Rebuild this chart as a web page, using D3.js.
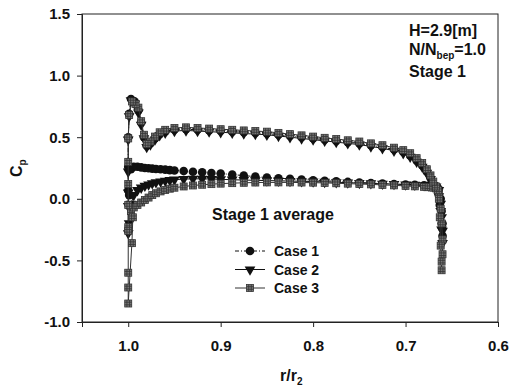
<!DOCTYPE html>
<html>
<head>
<meta charset="utf-8">
<script src="https://cdn.jsdelivr.net/npm/d3@7"></script>
<style>
  html, body { margin: 0; padding: 0; background: #fff; }
  svg { display: block; font-family: "Liberation Sans", Arial, sans-serif; font-weight: bold; }
</style>
</head>
<body>
<div id="chart"></div>
<script>
// --- data ---
const xTicks = [1.0, 0.9, 0.8, 0.7, 0.6];
const yTicks = [-1.0, -0.5, 0.0, 0.5, 1.0, 1.5];

// upper branch, trailing edge -> leading edge
const upperR = [0.665, 0.667, 0.670, 0.673, 0.677, 0.682, 0.688, 0.695, 0.7025, 0.7125,
  0.725, 0.7375, 0.750, 0.7625, 0.775, 0.7875, 0.800, 0.8125, 0.825, 0.8375,
  0.850, 0.8625, 0.875, 0.8875, 0.900, 0.9125, 0.925, 0.9375, 0.950, 0.960,
  0.966, 0.971, 0.976, 0.980, 0.983];
// lower branch, leading edge -> trailing edge
const lowerR = [0.997, 0.994, 0.990, 0.986, 0.982, 0.978, 0.974, 0.970, 0.965, 0.960,
  0.955, 0.950, 0.940, 0.930, 0.920, 0.910, 0.900, 0.8875, 0.875, 0.8625,
  0.850, 0.8375, 0.825, 0.8125, 0.800, 0.7875, 0.775, 0.7625, 0.750, 0.7375,
  0.725, 0.7125, 0.700, 0.690, 0.680, 0.675, 0.670, 0.667];

const case1Upper = [0.06, 0.09, 0.12, 0.17, 0.22, 0.27, 0.31, 0.35, 0.38, 0.40,
  0.42, 0.435, 0.45, 0.46, 0.47, 0.48, 0.49, 0.50, 0.51, 0.52,
  0.53, 0.535, 0.54, 0.545, 0.55, 0.555, 0.56, 0.565, 0.56, 0.545,
  0.525, 0.49, 0.45, 0.43, 0.50];
const case2Upper = [0.05, 0.08, 0.11, 0.16, 0.21, 0.26, 0.30, 0.34, 0.37, 0.39,
  0.41, 0.425, 0.44, 0.45, 0.46, 0.47, 0.48, 0.49, 0.50, 0.51,
  0.52, 0.525, 0.53, 0.535, 0.54, 0.545, 0.55, 0.555, 0.55, 0.535,
  0.515, 0.48, 0.44, 0.42, 0.49];
const case3Upper = [0.07, 0.10, 0.14, 0.19, 0.24, 0.29, 0.33, 0.37, 0.395, 0.415,
  0.435, 0.45, 0.465, 0.475, 0.485, 0.495, 0.505, 0.515, 0.525, 0.535,
  0.545, 0.55, 0.555, 0.56, 0.565, 0.57, 0.575, 0.58, 0.575, 0.56,
  0.54, 0.505, 0.465, 0.445, 0.52];

const case1Lower = [0.24, 0.26, 0.26, 0.255, 0.25, 0.248, 0.245, 0.242, 0.24, 0.237,
  0.233, 0.23, 0.225, 0.22, 0.215, 0.21, 0.205, 0.197, 0.188, 0.18,
  0.173, 0.167, 0.162, 0.157, 0.15, 0.146, 0.142, 0.137, 0.132, 0.128,
  0.124, 0.12, 0.116, 0.113, 0.11, 0.108, 0.105, 0.10];
const case2Lower = [-0.04, 0.03, 0.07, 0.09, 0.105, 0.115, 0.125, 0.133, 0.14, 0.146,
  0.151, 0.155, 0.16, 0.162, 0.162, 0.16, 0.158, 0.155, 0.152, 0.15,
  0.148, 0.146, 0.144, 0.142, 0.14, 0.137, 0.134, 0.131, 0.128, 0.125,
  0.122, 0.119, 0.116, 0.113, 0.11, 0.107, 0.103, 0.098];
const case3Lower = [-0.10, -0.07, -0.05, -0.03, -0.01, 0.01, 0.03, 0.045, 0.06, 0.072,
  0.082, 0.09, 0.10, 0.108, 0.114, 0.119, 0.123, 0.127, 0.13, 0.132,
  0.133, 0.133, 0.133, 0.132, 0.131, 0.129, 0.126, 0.123, 0.12, 0.117,
  0.113, 0.109, 0.105, 0.101, 0.097, 0.094, 0.09, 0.085];

// leading-edge spike [r, Cp]
const case1LE = [[0.986, 0.62], [0.989, 0.72], [0.993, 0.79], [0.997, 0.81], [0.999, 0.69],
  [1.0, 0.50], [1.0, 0.26], [1.0, 0.07], [0.999, 0.03]];
const case2LE = [[0.986, 0.60], [0.989, 0.70], [0.993, 0.77], [0.997, 0.80], [0.999, 0.67],
  [1.0, 0.48], [1.0, 0.22], [1.0, 0.05], [1.0, -0.06], [1.0, -0.28], [0.999, -0.20]];
const case3LE = [[0.986, 0.63], [0.989, 0.74], [0.992, 0.77], [0.996, 0.79], [0.999, 0.68],
  [1.0, 0.49], [1.0, 0.30], [1.0, 0.12], [1.0, -0.05], [1.0, -0.23], [1.0, -0.26],
  [1.0, -0.60], [1.0, -0.72], [1.0, -0.85], [0.996, -0.36], [0.995, -0.15]];

// trailing-edge drop [r, Cp]
const case1TE = [[0.664, 0.08], [0.662, 0.0], [0.661, -0.10], [0.660, -0.20], [0.660, -0.30],
  [0.661, -0.20], [0.663, -0.05], [0.664, 0.03]];
const case2TE = [[0.664, 0.07], [0.662, -0.04], [0.661, -0.15], [0.660, -0.26], [0.660, -0.36],
  [0.661, -0.25], [0.662, -0.10], [0.664, 0.02]];
const case3TE = [[0.664, 0.05], [0.662, -0.08], [0.661, -0.20], [0.660, -0.33], [0.660, -0.45],
  [0.661, -0.51], [0.661, -0.58], [0.662, -0.38], [0.663, -0.15], [0.664, 0.0]];

const caseNames = ["Case 1", "Case 2", "Case 3"];

// --- build one loop per case: lower -> TE -> upper -> LE ---
function loop(lower, te, upper, le) {
  return [
    ...lowerR.map((r, i) => [r, lower[i]]),
    ...te,
    ...upperR.map((r, i) => [r, upper[i]]),
    ...le
  ];
}
const series = [
  { name: caseNames[0], pts: loop(case1Lower, case1TE, case1Upper, case1LE), marker: "circle", dash: "4,2,1,2", stroke: "#111" },
  { name: caseNames[1], pts: loop(case2Lower, case2TE, case2Upper, case2LE), marker: "triangle", dash: null, stroke: "#111" },
  { name: caseNames[2], pts: loop(case3Lower, case3TE, case3Upper, case3LE), marker: "hatch", dash: null, stroke: "#333" }
];

// --- layout ---
const width = 519, height = 387;
const svg = d3.select("#chart").append("svg")
  .attr("width", width).attr("height", height);

const x = d3.scaleLinear().domain([1.05, 0.6]).range([82, 498]);
const y = d3.scaleLinear().domain([-1.0, 1.5]).range([322, 14]);

// frame
svg.append("rect")
  .attr("x", 82).attr("y", 14).attr("width", 416).attr("height", 308)
  .attr("fill", "none").attr("stroke", "#222").attr("stroke-width", 1);

const fmt = (d) => d.toFixed(1);

const xAxis = svg.append("g")
  .attr("transform", "translate(0,322)")
  .call(d3.axisBottom(x).tickValues(xTicks).tickFormat(fmt).tickSize(5).tickPadding(13));
const yAxis = svg.append("g")
  .attr("transform", "translate(82,0)")
  .call(d3.axisLeft(y).tickValues(yTicks).tickFormat(fmt).tickSize(5).tickPadding(7));

[xAxis, yAxis].forEach((a) => {
  a.select(".domain").attr("stroke", "#222");
  a.selectAll(".tick line").attr("stroke", "#222");
  a.selectAll("text").attr("font-size", 15).attr("font-weight", "bold")
    .attr("font-family", "Liberation Sans, Arial, sans-serif").attr("fill", "#111");
});

// markers
function drawMarker(sel, type) {
  if (type === "circle") {
    sel.append("circle").attr("r", 4.3).attr("fill", "#111");
  } else if (type === "triangle") {
    sel.append("path")
      .attr("d", d3.symbol(d3.symbolTriangle, 50)())
      .attr("transform", "rotate(180)")
      .attr("fill", "#111");
  } else {
    sel.append("rect").attr("x", -3.5).attr("y", -3.5).attr("width", 7).attr("height", 7)
      .attr("fill", "#777").attr("stroke", "#333").attr("stroke-width", 0.8);
    sel.append("path")
      .attr("d", "M-1.3,-3.5V3.5M1.3,-3.5V3.5M-3.5,-1.3H3.5M-3.5,1.3H3.5")
      .attr("stroke", "#333").attr("stroke-width", 0.8);
  }
}

const line = d3.line().x((d) => x(d[0])).y((d) => y(d[1]));

const plot = svg.append("g");
series.forEach((s) => {
  const g = plot.append("g");
  g.append("path")
    .attr("d", line(s.pts))
    .attr("fill", "none")
    .attr("stroke", s.stroke)
    .attr("stroke-width", 1)
    .attr("stroke-dasharray", s.dash);
  g.selectAll("g.pt").data(s.pts).join("g")
    .attr("class", "pt")
    .attr("transform", (d) => `translate(${x(d[0])},${y(d[1])})`)
    .each(function () { drawMarker(d3.select(this), s.marker); });
});

// legend
const legend = svg.append("g");
series.forEach((s, i) => {
  const ly = 251 + i * 18.5;
  legend.append("line")
    .attr("x1", 235).attr("x2", 265).attr("y1", ly).attr("y2", ly)
    .attr("stroke", s.stroke).attr("stroke-width", 1)
    .attr("stroke-dasharray", s.dash);
  drawMarker(legend.append("g").attr("transform", `translate(250,${ly})`), s.marker);
  legend.append("text")
    .attr("x", 274).attr("y", ly + 5)
    .attr("font-size", 14).attr("fill", "#111")
    .text(s.name);
});

svg.append("text")
  .attr("x", 212).attr("y", 220)
  .attr("font-size", 16).attr("fill", "#111")
  .text("Stage 1 average");

// annotation top-right
const ann = svg.append("g").attr("fill", "#111").attr("font-size", 16);
ann.append("text").attr("x", 409).attr("y", 36).text("H=2.9[m]");
const nt = ann.append("text").attr("x", 409).attr("y", 55);
nt.append("tspan").text("N/N");
nt.append("tspan").attr("font-size", 10).attr("dy", 4).text("bep");
nt.append("tspan").attr("dy", -4).text("=1.0");
ann.append("text").attr("x", 409).attr("y", 77).text("Stage 1");

// axis titles
const yl = svg.append("text")
  .attr("transform", "translate(22,177) rotate(-90)")
  .attr("font-size", 16).attr("fill", "#111");
yl.append("tspan").text("C");
yl.append("tspan").attr("font-size", 10).attr("dy", 4).text("p");

const xl = svg.append("text")
  .attr("x", 280).attr("y", 381)
  .attr("font-size", 16).attr("fill", "#111");
xl.append("tspan").text("r/r");
xl.append("tspan").attr("font-size", 10).attr("dy", 4).text("2");
</script>
</body>
</html>
